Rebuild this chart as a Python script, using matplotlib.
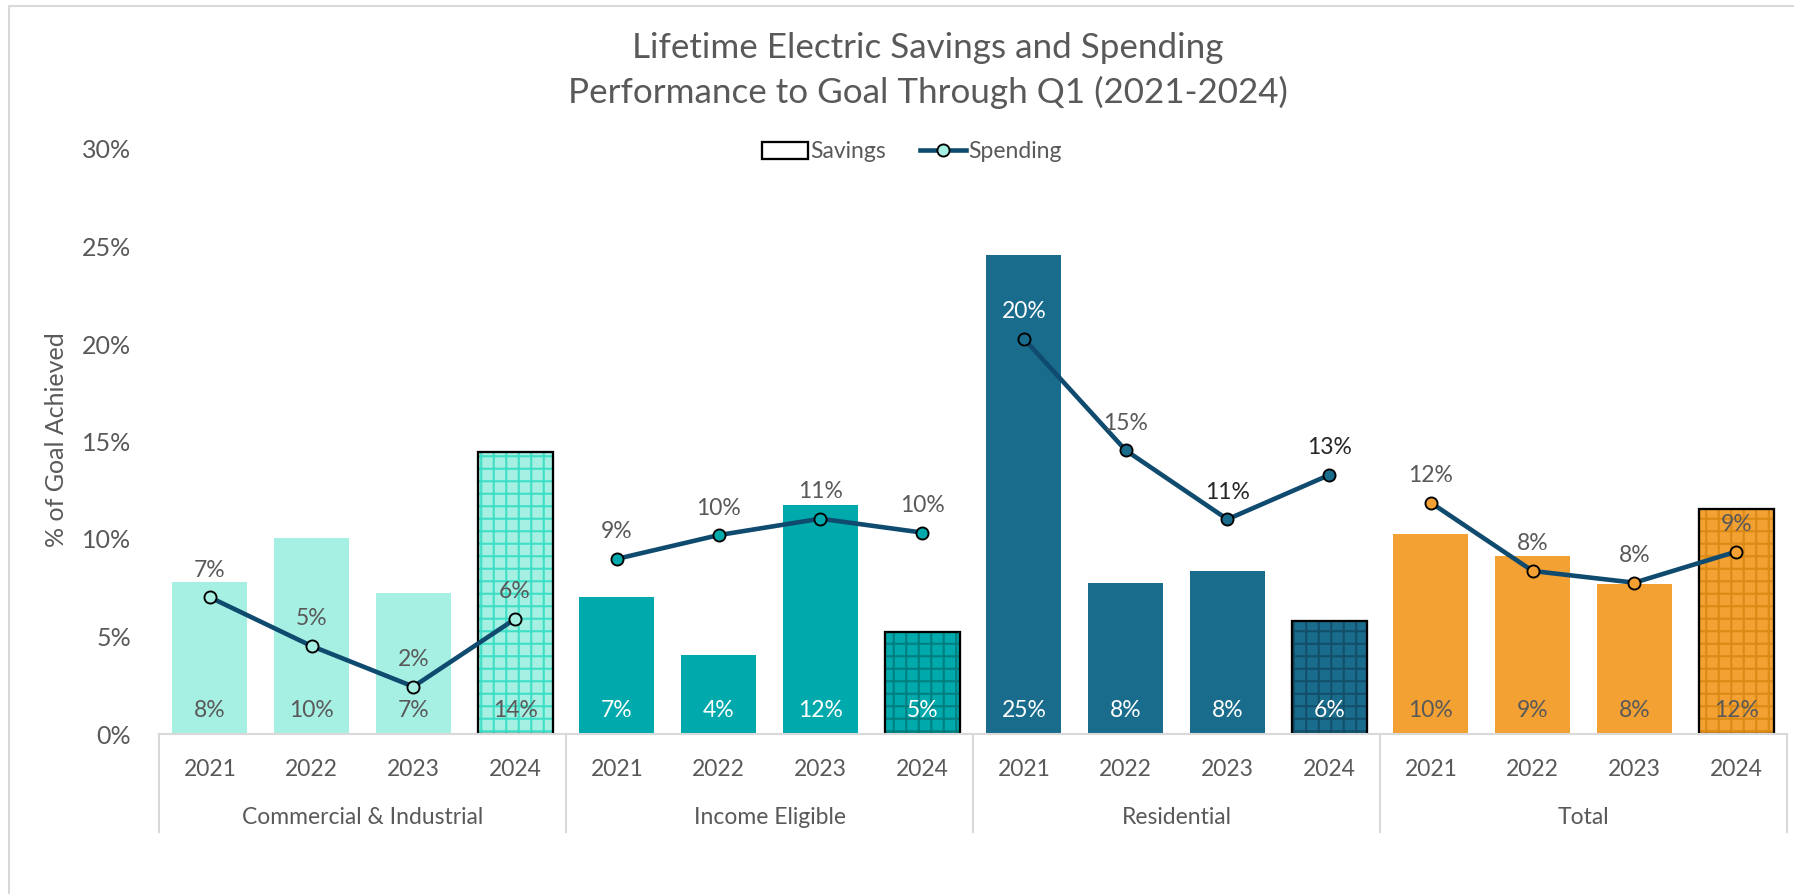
import matplotlib.pyplot as plt
from matplotlib.patches import Patch, Rectangle
from matplotlib.lines import Line2D
from matplotlib.ticker import PercentFormatter
import matplotlib.transforms as mtransforms

plt.rcParams['font.family'] = ['Lato', 'DejaVu Sans']
plt.rcParams['hatch.linewidth'] = 1.0

# data (percent of goal achieved)
groups = ['Commercial & Industrial', 'Income Eligible', 'Residential', 'Total']
years = ['2021', '2022', '2023', '2024']
savings_ci = [7.8, 10.05, 7.22, 14.45]
savings_ie = [7.04, 4.05, 11.74, 5.22]
savings_res = [24.55, 7.75, 8.34, 5.81]
savings_tot = [10.26, 9.13, 7.69, 11.55]
spending_ci = [7.01, 4.51, 2.43, 5.9]
spending_ie = [8.98, 10.2, 11.04, 10.33]
spending_res = [20.27, 14.55, 11.01, 13.28]
spending_tot = [11.86, 8.36, 7.76, 9.35]

savings = [savings_ci, savings_ie, savings_res, savings_tot]
spending = [spending_ci, spending_ie, spending_res, spending_tot]

bar_colors = ['#A6F0E3', '#00AAAC', '#1A6C8C', '#F3A132']
hatch_colors = ['#3EDFC6', '#007E80', '#124F69', '#DB8A16']
bar_label_colors = ['#595959', 'white', 'white', '#595959']
line_label_colors = [['#595959'] * 4, ['#595959'] * 4,
                     ['white', '#595959', '#262626', '#262626'], ['#595959'] * 4]
line_color = '#0F4B6E'
gray = '#595959'

W, H, DPI = 1794, 894, 150
fig = plt.figure(figsize=(W / DPI, H / DPI), dpi=DPI)
ax = fig.add_axes([159 / W, 1 - 734 / H, (1787 - 159) / W, (734 - 149) / H])

bw = 0.735
for g in range(4):
    xs = [g * 4 + i for i in range(4)]
    for i in range(4):
        v = savings[g][i]
        if i == 3:
            ax.bar(xs[i], v, bw, color=bar_colors[g], edgecolor=hatch_colors[g],
                   linewidth=0, hatch='++', zorder=2)
            ax.bar(xs[i], v, bw, fill=False, edgecolor='black', linewidth=1.1, zorder=2)
        else:
            ax.bar(xs[i], v, bw, color=bar_colors[g], linewidth=0, zorder=2)
        ax.annotate(f'{int(v + 0.5)}%', (xs[i], 0), xytext=(0, 11.5), textcoords='offset points',
                    ha='center', va='center', fontsize=11, color=bar_label_colors[g], zorder=5)
    ax.plot(xs, spending[g], color=line_color, linewidth=2.2, marker='o', markersize=5.8,
            markerfacecolor=bar_colors[g], markeredgecolor='black', markeredgewidth=0.9, zorder=3)
    for i in range(4):
        v = spending[g][i]
        ax.annotate(f'{int(v + 0.5)}%', (xs[i], v), xytext=(0, 13), textcoords='offset points',
                    ha='center', va='center', fontsize=11, color=line_label_colors[g][i], zorder=5)

ax.set_xlim(-0.5, 15.5)
ax.set_ylim(0, 30)
ax.set_yticks([0, 5, 10, 15, 20, 25, 30])
ax.yaxis.set_major_formatter(PercentFormatter(decimals=0))
ax.set_xticks(range(16))
ax.set_xticklabels(years * 4)
ax.tick_params(axis='both', length=0, labelcolor=gray)
ax.tick_params(axis='x', pad=12, labelsize=11)
ax.tick_params(axis='y', pad=13.5, labelsize=12)
for s in ['left', 'top', 'right']:
    ax.spines[s].set_visible(False)
ax.spines['bottom'].set_color('#D9D9D9')
ax.spines['bottom'].set_linewidth(1.0)

# group labels and separators below the axis
trans = mtransforms.blended_transform_factory(ax.transData, ax.transAxes)
sep_bottom = -(832 - 734) / (734 - 149)
for k in range(5):
    ax.plot([k * 4 - 0.5, k * 4 - 0.5], [0, sep_bottom], transform=trans,
            color='#D9D9D9', linewidth=1.0, clip_on=False)
for g, name in enumerate(groups):
    ax.text(g * 4 + 1.5, -(817 - 734) / (734 - 149), name, transform=trans,
            ha='center', va='center', fontsize=11, color=gray)

fig.text(56 / W, 1 - 440 / H, '% of Goal Achieved', rotation=90, ha='center', va='center',
         fontsize=12, color=gray)

fig.text(928 / W, 1 - 48 / H, 'Lifetime Electric Savings and Spending', ha='center', va='center',
         fontsize=16.8, color=gray)
fig.text(928 / W, 1 - 92 / H, 'Performance to Goal Through Q1 (2021-2024)', ha='center', va='center',
         fontsize=16.8, color=gray)

handles = [Patch(facecolor='white', edgecolor='black', linewidth=1.1),
           Line2D([], [], color=line_color, linewidth=2.2, marker='o', markersize=5.8,
                  markerfacecolor=bar_colors[0], markeredgecolor='black', markeredgewidth=0.9)]
fig.legend(handles, ['Savings', 'Spending'], loc='center', bbox_to_anchor=(912 / W, 1 - 152 / H),
           ncol=2, frameon=False, fontsize=11, labelcolor=gray, handlelength=2.0,
           handletextpad=0.1, columnspacing=1.5)

fig.add_artist(Rectangle((9 / W, -0.1), 1.1, 1.1 - 6 / H, transform=fig.transFigure,
                         fill=False, edgecolor='#D9D9D9', linewidth=1.0))

fig.savefig('out.png', dpi=DPI, facecolor='white')
